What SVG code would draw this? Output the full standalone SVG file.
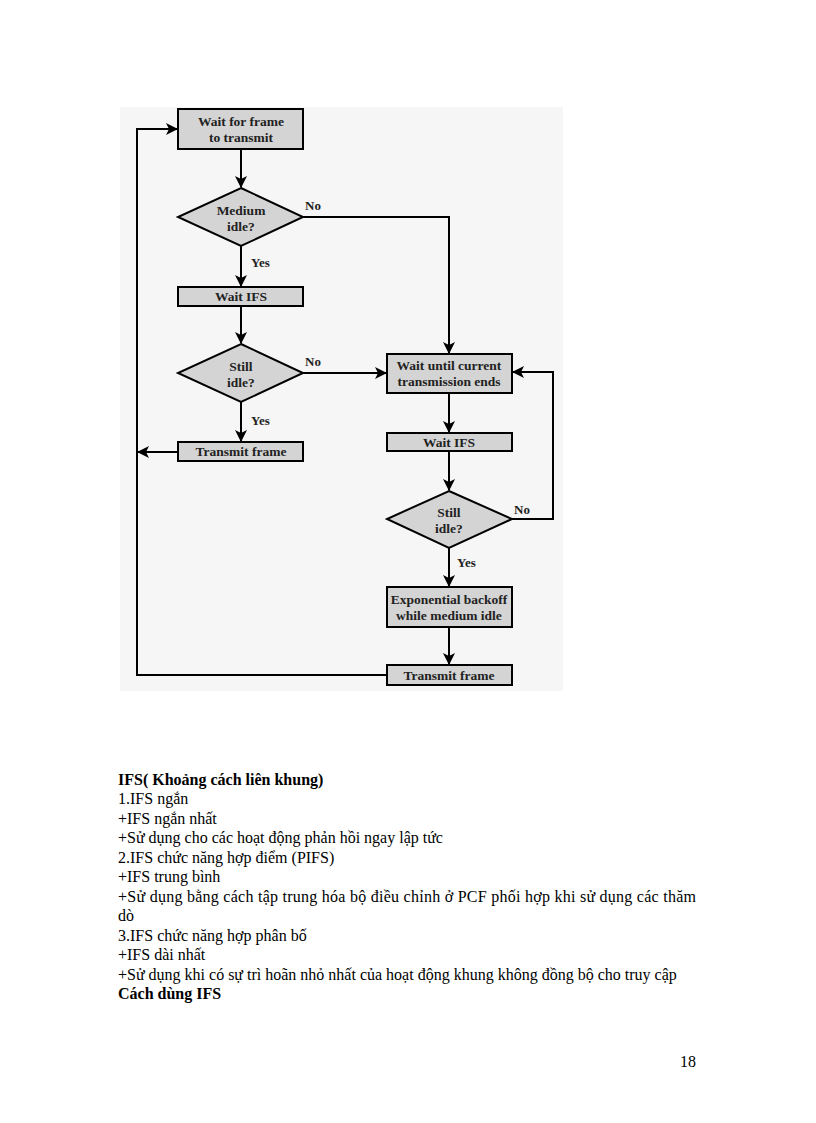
<svg xmlns="http://www.w3.org/2000/svg" width="816" height="1123" viewBox="0 0 816 1123">
<style>
.n{fill:#d4d4d4;stroke:#000;stroke-width:2}
.t{font-family:"Liberation Serif",serif;font-weight:bold;font-size:13.5px;fill:#222;text-anchor:middle}
.l{font-family:"Liberation Serif",serif;font-weight:bold;font-size:13px;fill:#222}
.c{fill:none;stroke:#000;stroke-width:2}
.p{font-family:"Liberation Serif",serif;font-size:16px;fill:#000}
.b{font-weight:bold}
</style>
<defs>
<marker id="a" markerWidth="12" markerHeight="12" refX="11" refY="6" orient="auto" markerUnits="userSpaceOnUse" viewBox="0 0 12 12">
<path d="M0,0 L12,6 L0,12 L3,6 Z" fill="#000"/>
</marker>
</defs>
<rect x="120" y="107" width="443" height="584" fill="#f7f6f7"/>
<g id="connectors">
<path class="c" d="M241,149 V187" marker-end="url(#a)"/>
<path class="c" d="M241,246 V286" marker-end="url(#a)"/>
<path class="c" d="M241,306 V343" marker-end="url(#a)"/>
<path class="c" d="M241,402 V441" marker-end="url(#a)"/>
<path class="c" d="M303,217 H449 V353" marker-end="url(#a)"/>
<path class="c" d="M303,373 H386" marker-end="url(#a)"/>
<path class="c" d="M178,452 H138" marker-end="url(#a)"/>
<path class="c" d="M449,393 V432" marker-end="url(#a)"/>
<path class="c" d="M449,451 V490" marker-end="url(#a)"/>
<path class="c" d="M512,519 H553 V372 H513" marker-end="url(#a)"/>
<path class="c" d="M449,548 V586" marker-end="url(#a)"/>
<path class="c" d="M449,627 V664" marker-end="url(#a)"/>
<path class="c" d="M387,675 H137 V129 H177" marker-end="url(#a)"/>
<text class="l" x="305" y="210">No</text>
<text class="l" x="251" y="267">Yes</text>
<text class="l" x="305" y="366">No</text>
<text class="l" x="251" y="425">Yes</text>
<text class="l" x="514" y="514">No</text>
<text class="l" x="457" y="567">Yes</text>
</g>
<g id="wait-frame">
<rect class="n" x="178" y="109" width="125" height="40"/>
<text class="t" x="241" y="126">Wait for frame</text>
<text class="t" x="241" y="142">to transmit</text>
</g>
<g id="medium-idle">
<polygon class="n" points="241,188 303,217 241,246 178,217"/>
<text class="t" x="241" y="215">Medium</text>
<text class="t" x="241" y="231">idle?</text>
</g>
<g id="wait-ifs-1">
<rect class="n" x="178" y="287" width="125" height="19"/>
<text class="t" x="241" y="301">Wait IFS</text>
</g>
<g id="still-idle-1">
<polygon class="n" points="241,344 303,373 241,402 178,373"/>
<text class="t" x="241" y="371">Still</text>
<text class="t" x="241" y="387">idle?</text>
</g>
<g id="transmit-1">
<rect class="n" x="178" y="442" width="125" height="19"/>
<text class="t" x="241" y="456">Transmit frame</text>
</g>
<g id="wait-until">
<rect class="n" x="387" y="354" width="125" height="39"/>
<text class="t" x="449" y="370">Wait until current</text>
<text class="t" x="449" y="386">transmission ends</text>
</g>
<g id="wait-ifs-2">
<rect class="n" x="387" y="433" width="125" height="18"/>
<text class="t" x="449" y="447">Wait IFS</text>
</g>
<g id="still-idle-2">
<polygon class="n" points="449,491 512,519 449,548 387,519"/>
<text class="t" x="449" y="517">Still</text>
<text class="t" x="449" y="533">idle?</text>
</g>
<g id="backoff">
<rect class="n" x="387" y="587" width="125" height="40"/>
<text class="t" x="449" y="604">Exponential backoff</text>
<text class="t" x="449" y="620">while medium idle</text>
</g>
<g id="transmit-2">
<rect class="n" x="387" y="665" width="125" height="20"/>
<text class="t" x="449" y="680">Transmit frame</text>
</g>
<g id="body">
<text class="p b" x="118" y="785">IFS( Khoảng cách liên khung)</text>
<text class="p" x="118" y="804">1.IFS ngắn</text>
<text class="p" x="118" y="824">+IFS ngắn nhất</text>
<text class="p" x="118" y="843">+Sử dụng cho các hoạt động phản hồi ngay lập tức</text>
<text class="p" x="118" y="863">2.IFS chức năng hợp điểm (PIFS)</text>
<text class="p" x="118" y="882">+IFS trung bình</text>
<text class="p" x="118" y="902" textLength="578" lengthAdjust="spacing">+Sử dụng bằng cách tập trung hóa bộ điều chỉnh ở PCF phối hợp khi sử dụng các thăm</text>
<text class="p" x="118" y="921">dò</text>
<text class="p" x="118" y="941">3.IFS chức năng hợp phân bố</text>
<text class="p" x="118" y="960">+IFS dài nhất</text>
<text class="p" x="118" y="980">+Sử dụng khi có sự trì hoãn nhỏ nhất của hoạt động khung không đồng bộ cho truy cập</text>
<text class="p b" x="118" y="999">Cách dùng IFS</text>
<text class="p" x="696" y="1067" text-anchor="end">18</text>
</g>
</svg>
